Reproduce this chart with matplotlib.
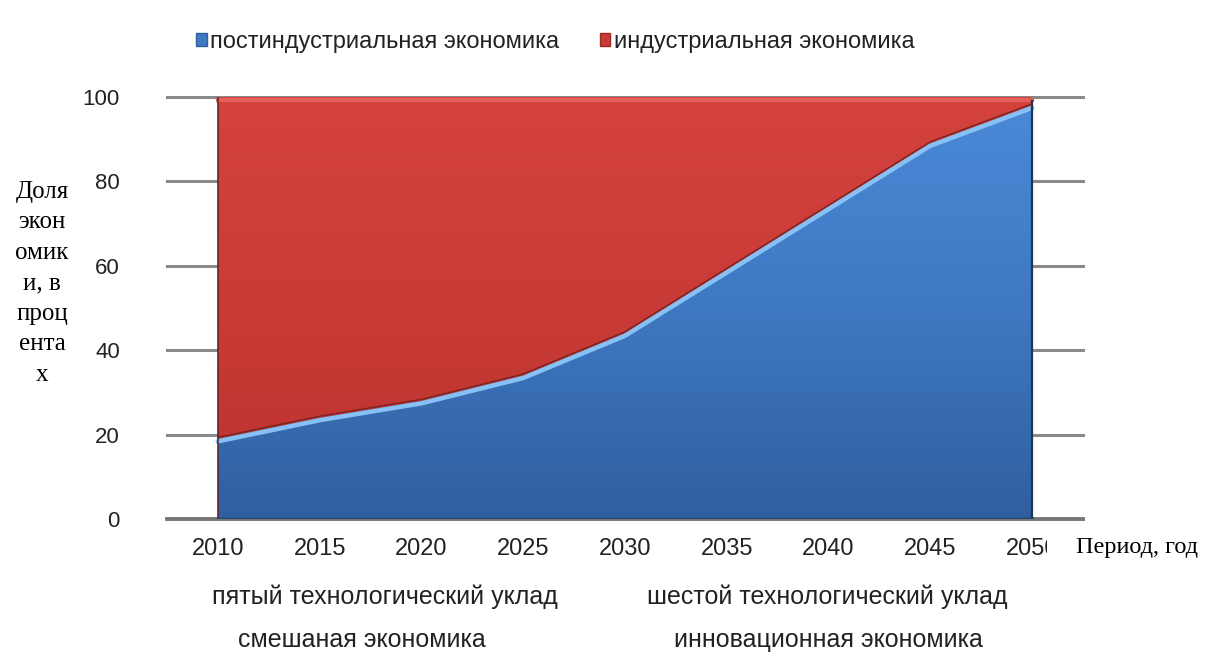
import numpy as np
import matplotlib.pyplot as plt
import matplotlib.transforms as mtransforms
from matplotlib.colors import LinearSegmentedColormap
from matplotlib.patches import Patch, Rectangle

years = [2010, 2015, 2020, 2025, 2030, 2035, 2040, 2045, 2050]
post_industrial = [19, 24, 28, 34, 44, 59, 74, 89, 98]
industrial = [100 - v for v in post_industrial]

series_names = ['постиндустриальная экономика', 'индустриальная экономика']
y_ticks = [0, 20, 40, 60, 80, 100]

W, H = 1218, 652
fig = plt.figure(figsize=(W / 100, H / 100), dpi=100)
ax = fig.add_axes([167 / W, (H - 519) / H, (1083 - 167) / W, (519 - 97) / H])

sans = 'Liberation Sans'
serif = 'Liberation Serif'
txt_color = '#222222'

# grid lines behind the areas
for y in y_ticks:
    ax.axhline(y, color='#8a8a8a' if y else '#777777', lw=2.2 if y else 2.8,
               zorder=0, clip_on=False)

polys = ax.stackplot(years, post_industrial, industrial,
                     colors=['#3a6fb5', '#c83a36'], zorder=1)

# vertical shading inside each area
blue_cmap = LinearSegmentedColormap.from_list('b', ['#2f5f9f', '#3f78c2', '#4a8ad8'])
red_cmap = LinearSegmentedColormap.from_list('r', ['#bb322e', '#c93b37', '#d4423d'])
grad = np.linspace(0, 1, 256).reshape(-1, 1)
for poly, cmap in zip(polys, [blue_cmap, red_cmap]):
    im = ax.imshow(grad, extent=[years[0], years[-1], 0, 100], origin='lower',
                   aspect='auto', cmap=cmap, zorder=2)
    im.set_clip_path(poly.get_paths()[0], poly.get_transform())

# bevel along the boundary between the two areas
hi = mtransforms.offset_copy(ax.transData, fig=fig, x=0, y=-2.5, units='dots')
sh = mtransforms.offset_copy(ax.transData, fig=fig, x=0, y=1.5, units='dots')
ax.plot(years, post_industrial, color='#7a2220', lw=1.0, transform=sh, zorder=3)
ax.plot(years, post_industrial, color='#86c0f4', lw=3.2, transform=hi, zorder=3)

# light strip at the top of the red area and dark outer edges
top = mtransforms.offset_copy(ax.transData, fig=fig, x=0, y=-3, units='dots')
ax.plot([years[0], years[-1]], [100, 100], color='#e2625b', lw=3, transform=top, zorder=3)
ax.plot([years[0], years[0]], [0, 100], color='#5a2a2a', lw=1.2, zorder=3)
ax.plot([years[-1], years[-1]], [0, 99], color='#1f3550', lw=1.6, zorder=3)
ax.plot([years[0], years[-1]], [0, 0], color='#24466f', lw=2.5, zorder=3)

ax.set_xlim(2007.49, 2052.51)
ax.set_ylim(0, 100)
ax.set_xticks(years)
ax.set_yticks(y_ticks)
ax.tick_params(length=0, labelcolor=txt_color)
ax.tick_params(axis='y', pad=34, labelsize=16)
ax.tick_params(axis='x', pad=14, labelsize=17)
for lab in ax.get_xticklabels() + ax.get_yticklabels():
    lab.set_fontfamily(sans)
for s in ax.spines.values():
    s.set_visible(False)

fig.text(42 / W, 1 - 283 / H, 'Доля\nэкон\nомик\nи, в\nпроц\nента\nх',
         ha='center', va='center', fontsize=18, family=serif, linespacing=1.5)

# white box of the axis caption sits over the end of the last year label
fig.add_artist(Rectangle((1047 / W, 1 - 568 / H), 171 / W, 42 / H,
                         transform=fig.transFigure, facecolor='white',
                         edgecolor='none', zorder=5))
fig.text(1076 / W, 1 - 548 / H, 'Период, год', ha='left', va='center',
         fontsize=17.5, family=serif, color='black', zorder=6)

fig.text(385 / W, 1 - 597 / H, 'пятый технологический уклад', ha='center',
         va='center', fontsize=18, family=sans, color=txt_color)
fig.text(362 / W, 1 - 640 / H, 'смешаная экономика', ha='center',
         va='center', fontsize=18, family=sans, color=txt_color)
fig.text(827 / W, 1 - 597 / H, 'шестой технологический уклад', ha='center',
         va='center', fontsize=18, family=sans, color=txt_color)
fig.text(828 / W, 1 - 640 / H, 'инновационная экономика', ha='center',
         va='center', fontsize=18, family=sans, color=txt_color)

handles = [Patch(facecolor='#3f78c2', edgecolor='#2f5f9f'),
           Patch(facecolor='#c93b37', edgecolor='#a02a28')]
fig.legend(handles, series_names, loc='center left',
           bbox_to_anchor=(175 / W, 1 - 42 / H), ncol=2, frameon=False,
           handlelength=0.45, handleheight=0.45, handletextpad=0.15,
           columnspacing=1.7, labelcolor=txt_color,
           prop={'family': sans, 'size': 17})

fig.savefig('out.png', dpi=100)
